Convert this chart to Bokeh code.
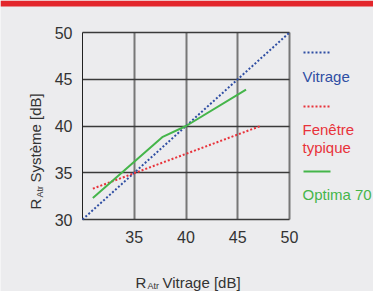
from math import pi
from bokeh.plotting import figure
from bokeh.models import Range1d, FixedTicker, Label, Arrow, BoxAnnotation, Grid
from bokeh.embed import file_html
from bokeh.resources import INLINE

# ---- data ----
ticks = [30, 35, 40, 45, 50]
x_grid_ticks = [35, 40, 45, 50]
vitrage_x = [30, 50]
vitrage_y = [30, 50]
fenetre_x = [31, 47.2]
fenetre_y = [33.3, 40]
optima_x = [31, 37.7, 40, 45.8]
optima_y = [32.3, 38.8, 40, 43.9]
series_names = ["Vitrage", "Fenêtre\ntypique", "Optima 70"]
series_colors = ["#2f4ea3", "#e8333b", "#45b54a"]

# ---- layout (pixels) ----
W, H = 373, 291
FL, FR, FT, FB = 82, 289, 32, 219        # chart area in pixels
X0, X1, Y0, Y1 = 30, 50, 30, 50          # chart area in data units
kx = (FR - FL) / (X1 - X0)
ky = (FB - FT) / (Y1 - Y0)
xr = Range1d(X0 - FL / kx, X1 + (W - FR) / kx)
yr = Range1d(Y0 - (H - FB) / ky, Y1 + FT / ky)

BG = "#ececee"
FONT = "Liberation Sans"
TXT = "#333333"

p = figure(width=W, height=H, output_backend="svg", toolbar_location=None,
           x_range=xr, y_range=yr, min_border=0,
           background_fill_color=BG, border_fill_color=BG, outline_line_color=None)

for ax in (p.xaxis[0], p.yaxis[0]):
    ax.ticker = FixedTicker(ticks=ticks)
    ax.fixed_location = 30
    ax.bounds = (30, 50)
    ax.axis_line_color = None
    ax.major_tick_line_color = None
    ax.minor_tick_line_color = None
    ax.major_label_text_font = FONT
    ax.major_label_text_font_size = "16px"
    ax.major_label_text_color = TXT
p.xaxis[0].major_label_overrides = {30: ""}
p.xaxis[0].major_label_standoff = 5
p.yaxis[0].major_label_standoff = 4

# ---- grid limited to the chart area ----
p.xgrid[0].visible = False
p.ygrid[0].visible = False
has_cb = "cross_bounds" in Grid.properties()
if has_cb:
    p.add_layout(Grid(dimension=0, ticker=FixedTicker(ticks=x_grid_ticks), bounds=(30, 50),
                      cross_bounds=(30, 50), grid_line_color="#777777", grid_line_width=2))
    p.add_layout(Grid(dimension=1, ticker=FixedTicker(ticks=ticks), bounds=(30, 50),
                      cross_bounds=(30, 50), grid_line_color="#3a3a3a", grid_line_width=1.3))
    p.add_layout(Grid(dimension=0, ticker=FixedTicker(ticks=[30]), bounds=(30, 50),
                      cross_bounds=(30, 50), grid_line_color="#222222", grid_line_width=1))
else:
    p.segment(x0=x_grid_ticks, x1=x_grid_ticks, y0=[30] * 4, y1=[50] * 4,
              line_color="#777777", line_width=2)
    p.segment(x0=[30] * 5, x1=[50] * 5, y0=ticks, y1=ticks,
              line_color="#3a3a3a", line_width=1.3)
    p.segment(x0=[30], x1=[30], y0=[30], y1=[50], line_color="#222222", line_width=1)

# ---- series ----
p.line(vitrage_x, vitrage_y, line_color=series_colors[0], line_width=2, line_dash="2 2")
p.line(fenetre_x, fenetre_y, line_color=series_colors[1], line_width=2, line_dash="2 2")
p.line(optima_x, optima_y, line_color=series_colors[2], line_width=2)

# ---- red top bar ----
p.add_layout(BoxAnnotation(left=0, right=W, top=H, bottom=H - 6,
                           left_units="screen", right_units="screen",
                           top_units="screen", bottom_units="screen",
                           fill_color="#e3262b", fill_alpha=1, line_color=None))

def lab(x, ytop, t, size, color=TXT, angle=0):
    p.add_layout(Label(x=x, y=H - ytop, x_units="screen", y_units="screen", text=t,
                       text_font=FONT, text_font_size=size, text_color=color,
                       text_baseline="alphabetic", text_align="left", angle=angle))

# ---- legend (line above label) ----
leg = [(52, [76], "2 2"), (106, [129, 147], "2 2"), (171, [194], "solid")]
for (ly, bys, dash), name, col in zip(leg, series_names, series_colors):
    p.add_layout(Arrow(x_start=303, y_start=H - ly, x_end=330, y_end=H - ly,
                       start_units="screen", end_units="screen", end=None,
                       line_color=col, line_width=2, line_dash=dash))
    for by, part in zip(bys, name.split("\n")):
        lab(302, by, part, "15px", col)

# ---- axis titles with subscripts ----
lab(135, 282, "R", "15px")
lab(147, 285, "Atr", "9px")
lab(162, 282, "Vitrage [dB]", "15px")

lab(35, 209, "R", "15px", angle=pi / 2)
lab(39, 197, "Atr", "9px", angle=pi / 2)
lab(35, 182, "Système [dB]", "15px", angle=pi / 2)

open("out.html", "w").write(file_html(p, INLINE))
